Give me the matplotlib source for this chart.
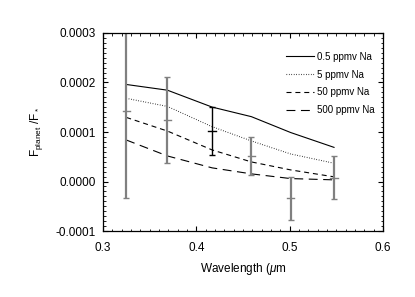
import matplotlib
matplotlib.use("Agg")
import matplotlib.pyplot as plt
from matplotlib.ticker import MultipleLocator, FormatStrFormatter

plt.rcParams['font.family'] = ['Liberation Sans', 'DejaVu Sans']
plt.rcParams['mathtext.fontset'] = 'custom'
plt.rcParams['mathtext.rm'] = 'Liberation Sans'
plt.rcParams['mathtext.it'] = 'Liberation Sans:italic'

# Wavelength bins (micron)
wavelength = [0.325, 0.369, 0.417, 0.459, 0.501, 0.5475]

# Measured planet/star flux ratio and 1-sigma errors
obs_flux = [0.000142, 0.0001235, 0.000102, 0.000052, -0.000034, 0.000008]
obs_err = [0.000175, 0.000087, 0.0000487, 0.000038, 0.000044, 0.000043]
obs_color = ['#808080', '#808080', 'black', '#808080', '#808080', '#808080']

# Model curves
model_labels = ['0.5 ppmv Na', '5 ppmv Na', '50 ppmv Na', '500 ppmv Na']
model_05 = [0.000196, 0.0001845, 0.0001503, 0.000131, 0.000099, 0.000069]
model_5 = [0.000168, 0.0001517, 0.0001107, 0.000082, 0.0000557, 0.000037]
model_50 = [0.0001295, 0.000102, 0.0000638, 0.0000396, 0.0000235, 0.0000095]
model_500 = [0.0000839, 0.0000517, 0.0000276, 0.0000155, 0.000006, 0.0000034]

fig = plt.figure(figsize=(4.15, 2.97), dpi=100)
ax = fig.add_axes([0.248, 0.222, 0.675, 0.667])

styles = ['-', (0, (0.6, 1.6)), (0, (4.5, 3.5)), (0, (8, 5))]
models = [model_05, model_5, model_50, model_500]
for vals, ls, lab in zip(models, styles, model_labels):
    ax.plot(wavelength, vals, color='black', lw=0.8, linestyle=ls, label=lab)

for x, y, e, c in zip(wavelength, obs_flux, obs_err, obs_color):
    lw = 1.0 if c == 'black' else 1.6
    ax.errorbar([x], [y], yerr=[e], fmt='none', ecolor=c, elinewidth=lw,
                capsize=2.2, capthick=1.0)
    ax.plot([x - 0.004, x + 0.004], [y, y], color=c, lw=1.0)

ax.set_xlim(0.3, 0.6)
ax.set_ylim(-0.0001, 0.0003)
ax.xaxis.set_major_locator(MultipleLocator(0.1))
ax.xaxis.set_minor_locator(MultipleLocator(0.01))
ax.yaxis.set_major_locator(MultipleLocator(0.0001))
ax.yaxis.set_minor_locator(MultipleLocator(0.00001))
ax.xaxis.set_major_formatter(FormatStrFormatter('%.1f'))
ax.yaxis.set_major_formatter(FormatStrFormatter('%.4f'))
ax.tick_params(which='both', direction='in', top=True, right=True, labelsize=8.5)
ax.tick_params(which='major', length=3.5, width=0.8)
ax.tick_params(which='minor', length=1.8, width=0.6)
ax.tick_params(axis='x', pad=8)
ax.tick_params(axis='y', pad=5)
for s in ax.spines.values():
    s.set_linewidth(0.9)

ax.set_xlabel(r'Wavelength ($\mu$m', fontsize=8.5, labelpad=5)
ax.set_ylabel(r'F$_{\rm planet}$ /F$_*$', fontsize=8.5, labelpad=8)

leg = ax.legend(loc='upper left', bbox_to_anchor=(0.655, 0.905), frameon=False,
                fontsize=7, handlelength=2.8, handletextpad=0.3,
                labelspacing=0.8, borderpad=0, borderaxespad=0)

fig.savefig('out.png', dpi=100)
